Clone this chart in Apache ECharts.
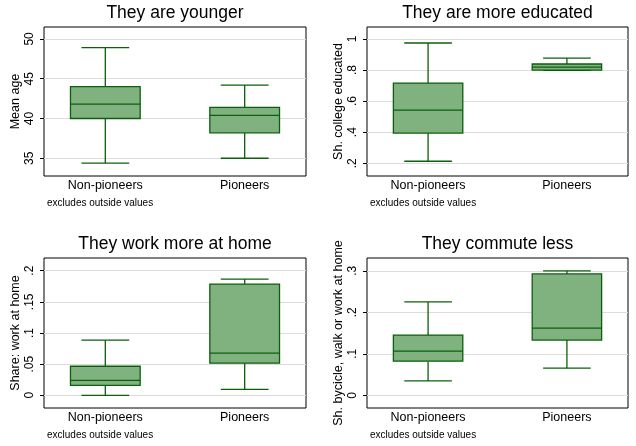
<!DOCTYPE html>
<html>
<head>
<meta charset="utf-8">
<script src="https://cdn.jsdelivr.net/npm/echarts@6/dist/echarts.min.js"></script>
<style>
html,body{margin:0;padding:0;background:#fff;}
#main{width:636px;height:446px;}
</style>
</head>
<body>
<div id="main"></div>
<script>
// ---- data (min, q1, median, q3, max) ----
const categories = ['Non-pioneers', 'Pioneers'];
const ageNon = [34.4, 40.0, 41.8, 44.0, 48.9];
const agePio = [35.0, 38.2, 40.4, 41.4, 44.2];
const eduNon = [0.213, 0.394, 0.542, 0.716, 0.974];
const eduPio = [0.798, 0.800, 0.819, 0.839, 0.877];
const homeNon = [0.000, 0.016, 0.024, 0.0466, 0.0884];
const homePio = [0.0096, 0.0515, 0.0675, 0.1785, 0.1865];
const commNon = [0.0347, 0.0823, 0.1065, 0.1452, 0.2250];
const commPio = [0.0653, 0.1331, 0.1621, 0.2927, 0.300];

const ageTicks = [35, 40, 45, 50];
const eduTicks = [0.2, 0.4, 0.6, 0.8, 1];
const homeTicks = [0, 0.05, 0.1, 0.15, 0.2];
const commTicks = [0, 0.1, 0.2, 0.3];

const titles = ['They are younger', 'They are more educated', 'They work more at home', 'They commute less'];
const yNames = ['Mean age', 'Sh. college educated', 'Share: work at home', 'Sh. bycicle, walk or work at home'];
const noteText = 'excludes outside values';

// ---- styling ----
const FONT = 'Liberation Sans, Arial, sans-serif';
const FILL = '#80b280';
const EDGE = '#0b5f0b';

const panels = [
  { data: [ageNon, agePio], ticks: ageTicks, range: [32.77, 51.5] },
  { data: [eduNon, eduPio], ticks: eduTicks, range: [0.118, 1.077] },
  { data: [homeNon, homePio], ticks: homeTicks, range: [-0.0204, 0.2203] },
  { data: [commNon, commPio], ticks: commTicks, range: [-0.0306, 0.331] }
];

const grids = [
  { left: 44, top: 27, width: 262, height: 149 },
  { left: 367, top: 27, width: 261, height: 149 },
  { left: 44, top: 258, width: 262, height: 150 },
  { left: 367, top: 258, width: 261, height: 150 }
];

function fmtY(v) {
  let s = String(+v.toFixed(4));
  return s.replace(/^0\./, '.').replace(/^-0\./, '-.');
}

function renderBox(params, api) {
  const x = api.value(0);
  const lo = api.coord([x, api.value(1)]);
  const q1 = api.coord([x, api.value(2)]);
  const md = api.coord([x, api.value(3)]);
  const q3 = api.coord([x, api.value(4)]);
  const hi = api.coord([x, api.value(5)]);
  const unit = api.size([1, 0])[0];
  const bw = unit * 0.5;
  const cw = unit * 0.343;
  const cx = md[0];
  const ls = { stroke: EDGE, lineWidth: 1.3 };
  return {
    type: 'group',
    children: [
      { type: 'line', shape: { x1: cx, y1: q3[1], x2: cx, y2: hi[1] }, style: ls },
      { type: 'line', shape: { x1: cx, y1: q1[1], x2: cx, y2: lo[1] }, style: ls },
      { type: 'line', shape: { x1: cx - cw / 2, y1: hi[1], x2: cx + cw / 2, y2: hi[1] }, style: ls },
      { type: 'line', shape: { x1: cx - cw / 2, y1: lo[1], x2: cx + cw / 2, y2: lo[1] }, style: ls },
      { type: 'rect', shape: { x: cx - bw / 2, y: q3[1], width: bw, height: q1[1] - q3[1] },
        style: { fill: FILL, stroke: EDGE, lineWidth: 1.3 } },
      { type: 'line', shape: { x1: cx - bw / 2, y1: md[1], x2: cx + bw / 2, y2: md[1] }, style: ls }
    ]
  };
}

const option = {
  animation: false,
  backgroundColor: '#fff',
  grid: grids.map(g => Object.assign({ show: true, borderColor: '#000', borderWidth: 1, backgroundColor: '#fff', containLabel: false }, g)),
  xAxis: panels.map((p, i) => ({
    type: 'value', gridIndex: i, min: -0.44, max: 1.44, position: 'bottom',
    axisLine: { show: false, onZero: false }, axisTick: { show: false }, splitLine: { show: false },
    axisLabel: {
      customValues: [0, 1],
      formatter: v => categories[Math.round(v)],
      margin: 3, fontSize: 12.5, color: '#000', fontFamily: FONT
    }
  })),
  yAxis: panels.map((p, i) => ({
    type: 'value', gridIndex: i, min: p.range[0], max: p.range[1], position: 'left',
    name: yNames[i], nameLocation: 'middle', nameGap: 22,
    nameTextStyle: { fontSize: 12.5, color: '#000', fontFamily: FONT },
    axisLine: { show: false, onZero: false },
    axisTick: { show: true, customValues: p.ticks, length: 4, lineStyle: { color: '#000', width: 1 } },
    axisLabel: {
      customValues: p.ticks, rotate: 90, margin: 8, fontSize: 12, color: '#000', fontFamily: FONT,
      formatter: fmtY
    },
    splitLine: { show: true, lineStyle: { color: '#dcdcdc', width: 1 } }
  })),
  series: panels.map((p, i) => ({
    type: 'custom', xAxisIndex: i, yAxisIndex: i, z: 10,
    renderItem: renderBox,
    encode: { x: 0, y: [1, 2, 3, 4, 5] },
    data: p.data.map((d, k) => [k].concat(d))
  })),
  graphic: [
    ...titles.map((t, i) => ({
      type: 'text',
      x: grids[i].left + grids[i].width / 2,
      y: grids[i].top - 14,
      style: { text: t, fontSize: 17.5, fontFamily: FONT, fill: '#000', align: 'center', verticalAlign: 'middle' }
    })),
    ...grids.map(g => ({
      type: 'text',
      x: g.left + 3,
      y: g.top + g.height + 27,
      style: { text: noteText, fontSize: 10, fontFamily: FONT, fill: '#000', align: 'left', verticalAlign: 'middle' }
    }))
  ]
};

const chart = echarts.init(document.getElementById('main'), null, { renderer: 'canvas' });
chart.setOption(option);
</script>
</body>
</html>
